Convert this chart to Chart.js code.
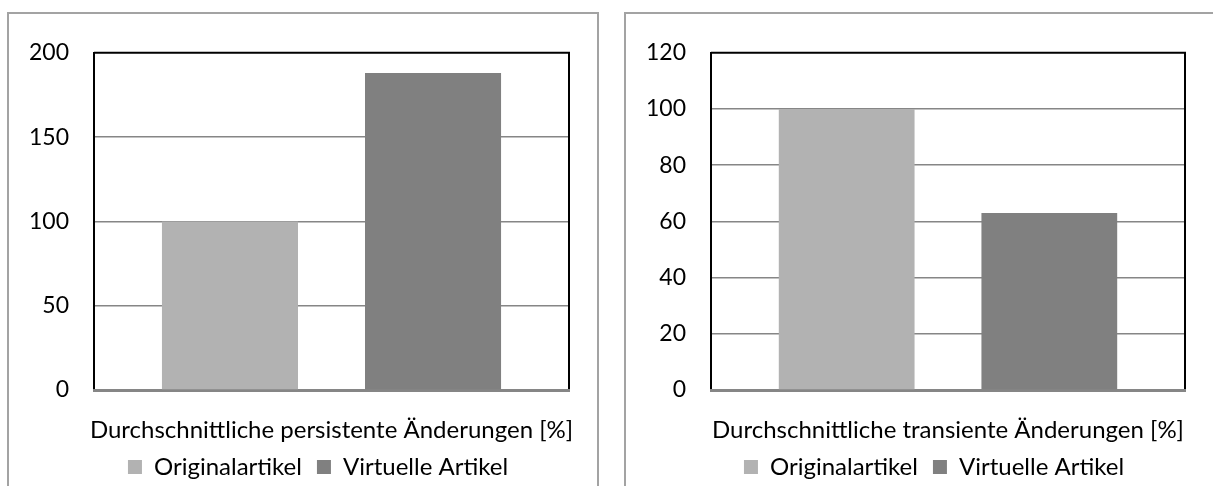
<!DOCTYPE html>
<html>
<head>
<meta charset="utf-8">
<script src="https://cdn.jsdelivr.net/npm/chart.js@4/dist/chart.umd.min.js"></script>
<style>
  html, body { margin: 0; padding: 0; background: #fff; overflow: hidden; }
  body { width: 1213px; height: 486px; position: relative; }
  .frame { position: absolute; box-sizing: border-box; border: 2px solid #a3a3a3; background: #fff; }
  .holder { position: absolute; }
</style>
</head>
<body>
<div class="frame" style="left:7px; top:12px; width:592px; height:500px;"></div>
<div class="frame" style="left:624px; top:12px; width:620px; height:500px;"></div>
<div class="holder" style="left:9px; top:14px; width:610px; height:480px;"><canvas id="persistent"></canvas></div>
<div class="holder" style="left:626px; top:14px; width:610px; height:480px;"><canvas id="transient"></canvas></div>
<script>
// Series and axis data
const seriesNames = ['Originalartikel', 'Virtuelle Artikel'];
const seriesColors = ['#b2b2b2', '#808080'];

const persistentCategories = ['Durchschnittliche persistente Änderungen [%]'];
const persistentOriginal = [100];
const persistentVirtual = [188];
const persistentTicks = [0, 50, 100, 150, 200];

const transientCategories = ['Durchschnittliche transiente Änderungen [%]'];
const transientOriginal = [100];
const transientVirtual = [63];
const transientTicks = [0, 20, 40, 60, 80, 100, 120];

const FONT = 'Lato, "Open Sans", sans-serif';

// Black frame on the top and right of the plot area
const plotFrame = {
  id: 'plotFrame',
  afterDatasetsDraw(chart) {
    const { ctx, chartArea: a } = chart;
    ctx.save();
    ctx.strokeStyle = '#000';
    ctx.lineWidth = 2;
    ctx.beginPath();
    ctx.moveTo(a.left, a.top);
    ctx.lineTo(a.right, a.top);
    ctx.lineTo(a.right, a.bottom - 1);
    ctx.stroke();
    ctx.restore();
  }
};

// axisWidth: width of the value axis; spacerWidth: empty strip right of the plot
function buildChart(id, categories, original, virtual, ticks, padLeft, padRight, axisWidth, spacerWidth) {
  const top = ticks[ticks.length - 1];
  return new Chart(document.getElementById(id), {
    type: 'bar',
    data: {
      labels: categories,
      datasets: [
        { label: seriesNames[0], data: original, backgroundColor: seriesColors[0], borderWidth: 0, yAxisID: 'y' },
        { label: seriesNames[1], data: virtual, backgroundColor: seriesColors[1], borderWidth: 0, yAxisID: 'y' }
      ]
    },
    options: {
      responsive: true,
      maintainAspectRatio: false,
      animation: false,
      events: [],
      categoryPercentage: 0.855,
      barPercentage: 0.67,
      layout: { padding: { left: padLeft, right: padRight, top: 37, bottom: 5 } },
      plugins: {
        tooltip: { enabled: false },
        legend: {
          position: 'bottom',
          labels: {
            boxWidth: 14,
            boxHeight: 14,
            padding: 15,
            color: '#000',
            font: { family: FONT, size: 24 }
          }
        }
      },
      scales: {
        y: {
          position: 'left',
          min: 0,
          max: top,
          afterBuildTicks(scale) { scale.ticks = ticks.map(v => ({ value: v })); },
          grid: {
            drawTicks: false,
            lineWidth: 1.5,
            color: c => (c.tick && c.tick.value === top) ? 'rgba(0,0,0,0)' : '#868686'
          },
          border: { color: '#000', width: 2 },
          ticks: {
            color: '#000',
            padding: 25,
            font: { family: FONT, size: 23 }
          },
          afterFit(scale) { scale.width = axisWidth; }
        },
        spacer: {
          type: 'linear',
          position: 'right',
          grid: { display: false, drawTicks: false },
          border: { display: false },
          ticks: { display: false },
          afterFit(scale) { scale.width = spacerWidth; }
        },
        x: {
          grid: { display: false, drawTicks: false },
          border: { color: '#868686', width: 3 },
          ticks: {
            color: '#000',
            // mirrored so the label is not clipped to the axis strip; negative padding puts it below the axis
            mirror: true,
            padding: -55,
            maxRotation: 0,
            minRotation: 0,
            autoSkip: false,
            font: { family: FONT, size: 24 }
          },
          afterFit(scale) {
            // the long category label may overhang the plot; keep the plot width fixed
            scale.height = 50;
            scale.paddingLeft = 0;
            scale.paddingRight = 0;
          }
        }
      }
    },
    plugins: [plotFrame]
  });
}

buildChart('persistent', persistentCategories, persistentOriginal, persistentVirtual, persistentTicks, 10, 2, 75, 48);
buildChart('transient', transientCategories, transientOriginal, transientVirtual, transientTicks, 10, 4, 75, 47);
</script>
</body>
</html>
